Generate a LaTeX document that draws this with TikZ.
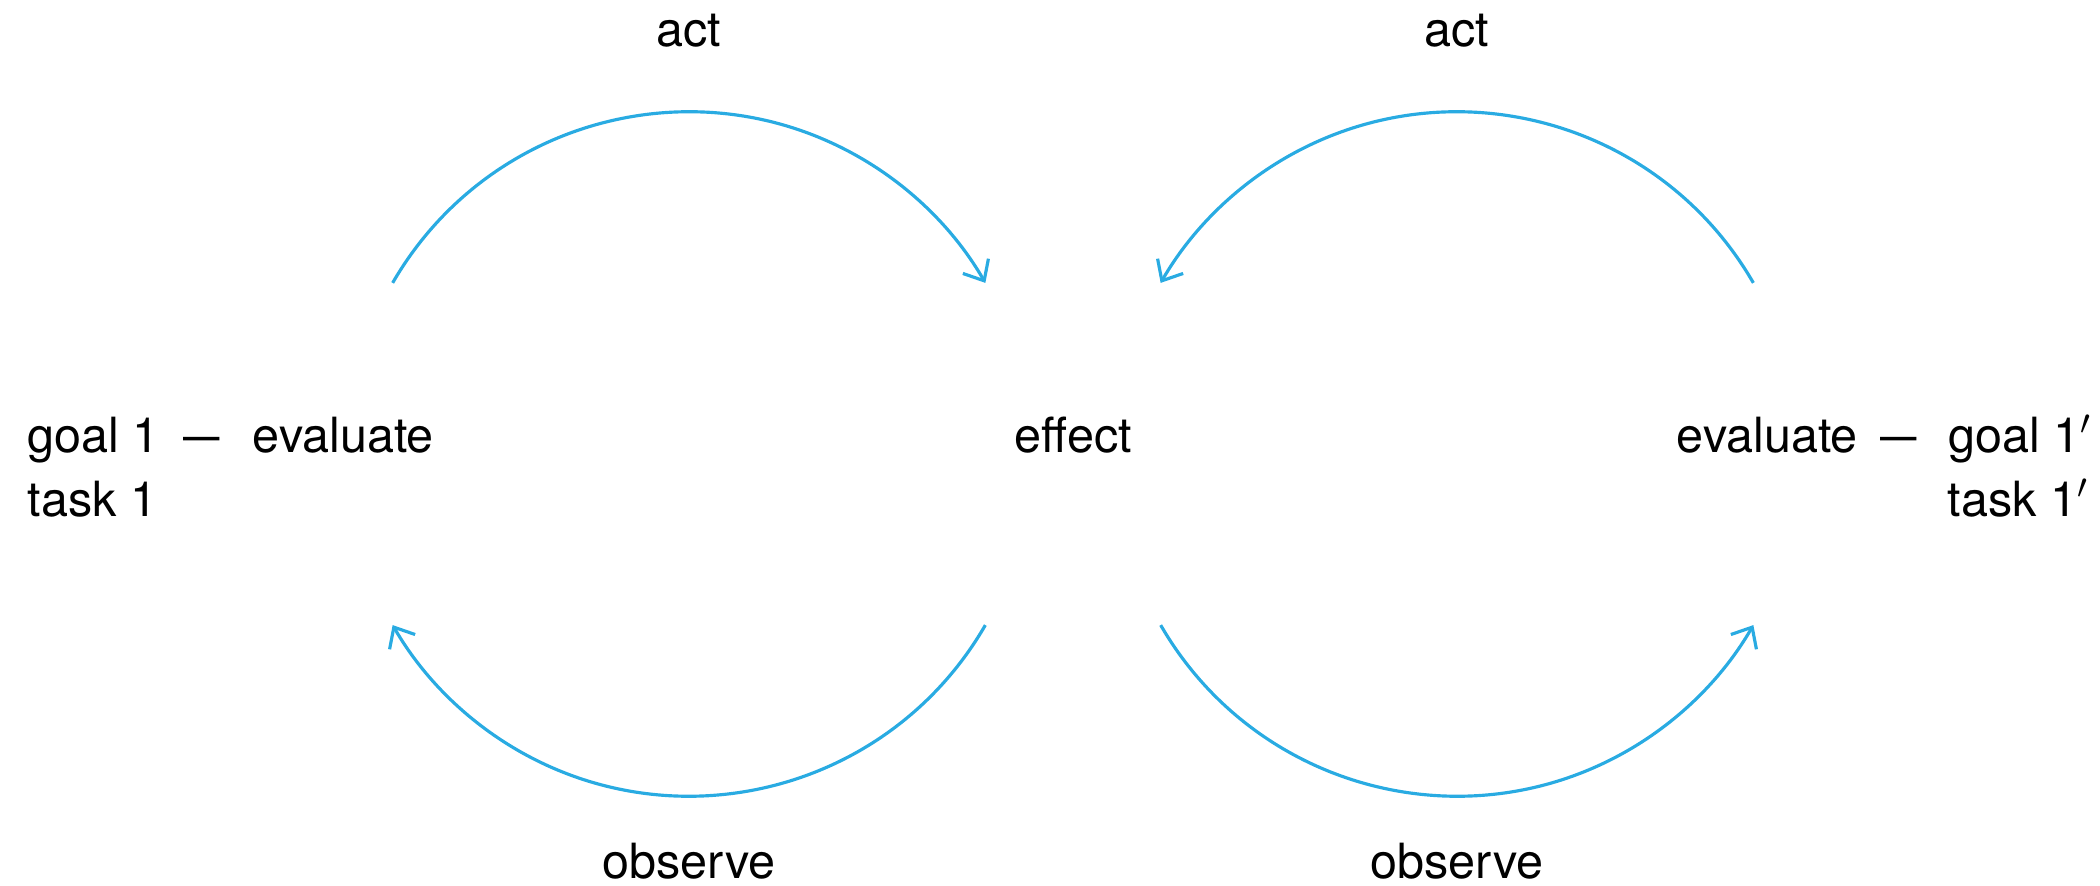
\documentclass[tikz,border=0pt]{standalone}
\usepackage{fontspec}
\setmainfont{TeX Gyre Heros}
\usetikzlibrary{arrows.meta}
\definecolor{loopblue}{RGB}{41,171,226}
\newcommand{\narrowdash}{\scalebox{0.75}[1]{—}}
\begin{document}
\begin{tikzpicture}[x=0.01cm,y=0.01cm,
  lbl/.style={inner sep=0pt, font=\fontsize{13.8}{18}\selectfont},
  loop/.style={draw=loopblue, line width=0.9pt,
    -{Straight Barb[length=1.7mm,width=2.95mm]}}]
\useasboundingbox (0,0) rectangle (2100,-886);

% centres of the two feedback loops
\coordinate (cL) at (689,-454);
\coordinate (cR) at (1457,-454);

% end points of the arcs (radius 3.42cm)
\coordinate (lTopA) at ([shift={(150:3.42cm)}]cL);
\coordinate (lTopB) at ([shift={(30:3.42cm)}]cL);
\coordinate (lBotA) at ([shift={(-30:3.42cm)}]cL);
\coordinate (lBotB) at ([shift={(-150:3.42cm)}]cL);
\coordinate (rTopA) at ([shift={(30:3.42cm)}]cR);
\coordinate (rTopB) at ([shift={(150:3.42cm)}]cR);
\coordinate (rBotA) at ([shift={(-150:3.42cm)}]cR);
\coordinate (rBotB) at ([shift={(-30:3.42cm)}]cR);

% labels
\node[lbl, anchor=base] (actL) at (689,-47) {act};
\node[lbl, anchor=base] (actR) at (1457,-47) {act};
\node[lbl, anchor=base] (obsL) at (689,-879) {observe};
\node[lbl, anchor=base] (obsR) at (1457,-879) {observe};
\node[lbl, anchor=base] (effect) at (1073,-453) {effect};

\node[lbl, anchor=base west] (goalL) at (27,-453) {goal 1\hspace{0.24cm}\narrowdash};
\node[lbl, anchor=base west] (evalL) at (252,-453) {evaluate};
\node[lbl, anchor=base west] (taskL) at (27,-517) {task 1};

\node[lbl, anchor=base east] (evalR) at (1918,-453) {evaluate\hspace{0.23cm}\narrowdash};
\node[lbl, anchor=base west] (goalR) at (1948,-453) {goal 1$'$};
\node[lbl, anchor=base west] (taskR) at (1947,-517) {task 1$'$};

% left loop: evaluate -> effect (act), effect -> evaluate (observe)
\draw[loop] (lTopA) arc[start angle=150, end angle=30, radius=3.42cm];
\draw[loop] (lBotA) arc[start angle=-30, end angle=-150, radius=3.42cm];

% right loop
\draw[loop] (rTopA) arc[start angle=30, end angle=150, radius=3.42cm];
\draw[loop] (rBotA) arc[start angle=-150, end angle=-30, radius=3.42cm];
\end{tikzpicture}
\end{document}
